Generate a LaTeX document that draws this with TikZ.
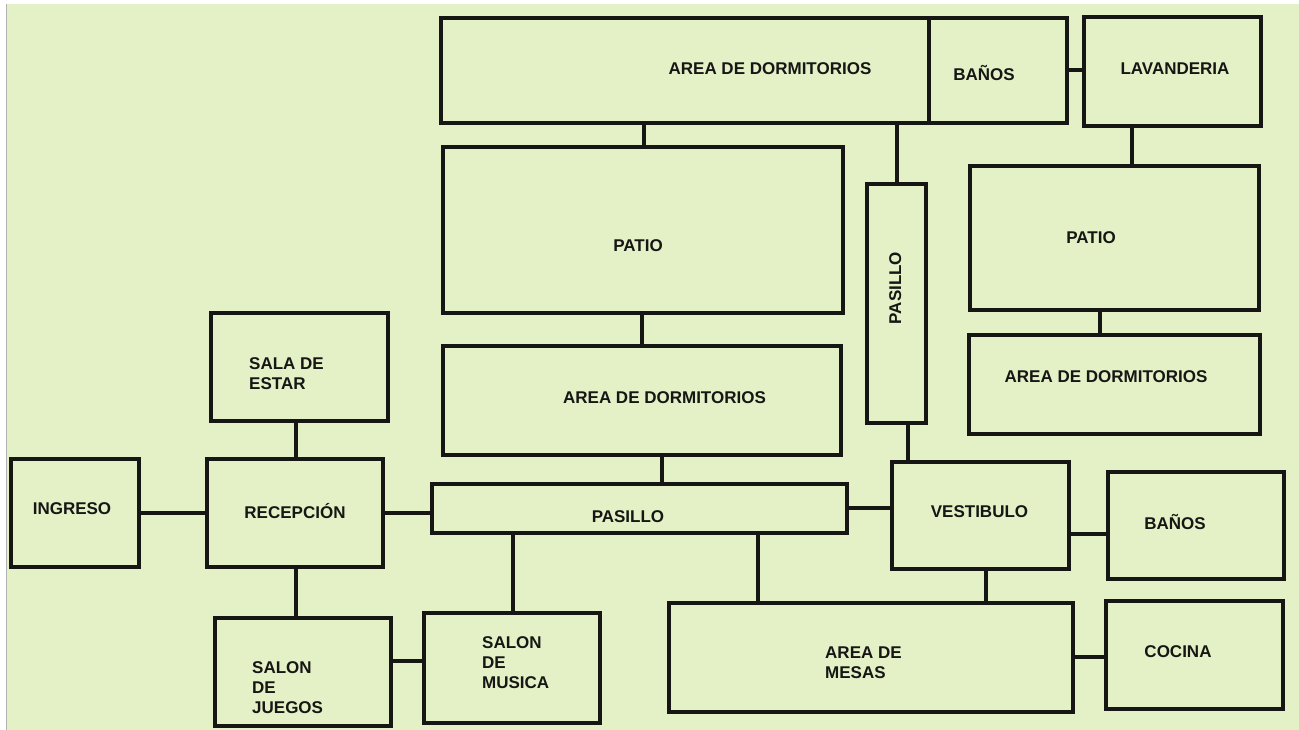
\documentclass[tikz,border=0pt]{standalone}
\usepackage{fontspec}
\setmainfont{Liberation Sans}
\usepackage{tikz}
\usetikzlibrary{positioning}
\usepackage{xcolor}
\definecolor{planbg}{RGB}{228, 241, 199}
\definecolor{planink}{RGB}{22, 22, 20}

\begin{document}
\begin{tikzpicture}[x=1pt, y=-1pt,
    room/.style 2 args={draw=planink, line width=3.3pt, minimum width=#1, minimum height=#2, inner sep=0pt},
    link/.style={draw=planink, line width=3.3pt},
    tag/.style={font=\fontsize{17}{20}\selectfont\bfseries, text=planink, inner sep=0pt, text height=12.2pt, text depth=0pt},
    note/.style={font=\fontsize{17}{20}\selectfont\bfseries, text=planink, inner sep=0pt, align=left, anchor=west}]
  \useasboundingbox (0,0) rectangle (1299,730);
  \fill[white] (0,0) rectangle (1299,730);
  \fill[planbg] (7,4) rectangle (1299,730);
  \draw[gray!60, line width=1pt] (6.5,4) -- (6.5,730);

  % rooms
  \node[room={488pt}{105pt}] (dormA)     at (685,70.5)   {};
  \node[room={138pt}{105pt}] (banosA)    at (998,70.5)   {};
  \node[room={177pt}{109pt}] (lavanderia) at (1172.5,71.5) {};
  \node[room={400pt}{166pt}] (patioA)    at (643,230)    {};
  \node[room={59pt}{239pt}]  (pasilloV)  at (896.5,303.5) {};
  \node[room={289pt}{144pt}] (patioB)    at (1114.5,238) {};
  \node[room={291pt}{99pt}]  (dormC)     at (1114.5,384.5) {};
  \node[room={398pt}{109pt}] (dormB)     at (642,400.5)  {};
  \node[room={415pt}{49pt}]  (pasilloH)  at (639.5,508.5) {};
  \node[room={177pt}{107pt}] (vestibulo) at (980.5,515.5) {};
  \node[room={176pt}{107pt}] (banosB)    at (1196,525.5) {};
  \node[room={404pt}{109pt}] (mesas)     at (871,657.5)  {};
  \node[room={177pt}{108pt}] (cocina)    at (1194.5,655) {};
  \node[room={128pt}{108pt}] (ingreso)   at (75,513)     {};
  \node[room={176pt}{108pt}] (recepcion) at (295,513)    {};
  \node[room={177pt}{108pt}] (sala)      at (299.5,367)  {};
  \node[room={176pt}{108pt}] (juegos)    at (303,672)    {};
  \node[room={176pt}{110pt}] (musica)    at (512,668)    {};

  % names
  \node[tag] (t-dormA)      at (770,68)     {AREA DE DORMITORIOS};
  \node[tag] (t-banosA)     at (984,74)     {BAÑOS};
  \node[tag] (t-lavanderia) at (1175,68)    {LAVANDERIA};
  \node[tag] (t-patioA)     at (638,245)    {PATIO};
  \node[tag, rotate=90] (t-pasilloV) at (895,288) {PASILLO};
  \node[tag] (t-patioB)     at (1091,237)   {PATIO};
  \node[tag] (t-dormC)      at (1106,376)   {AREA DE DORMITORIOS};
  \node[tag] (t-dormB)      at (664.5,397)  {AREA DE DORMITORIOS};
  \node[tag] (t-pasilloH)   at (628,516)    {PASILLO};
  \node[tag] (t-vestibulo)  at (979.5,511)  {VESTIBULO};
  \node[tag] (t-banosB)     at (1175,523)   {BAÑOS};
  \node[tag] (t-cocina)     at (1178,651)   {COCINA};
  \node[tag] (t-ingreso)    at (72,508)     {INGRESO};
  \node[tag] (t-recepcion)  at (295,512)    {RECEPCIÓN};
  \node[note] (t-sala)      at (249,373.5)  {SALA DE\\ESTAR};
  \node[note] (t-juegos)    at (252,687.5)  {SALON\\DE\\JUEGOS};
  \node[note] (t-musica)    at (482,662.5)  {SALON\\DE\\MUSICA};
  \node[note] (t-mesas)     at (825,662.5)  {AREA DE\\MESAS};

  % links
  \draw[link] (dormA.south -| 644,0)      -- (patioA.north -| 644,0);
  \draw[link] (dormA.south -| 897,0)      -- (pasilloV.north -| 897,0);
  \draw[link] (banosA.east |- 0,70)       -- (lavanderia.west |- 0,70);
  \draw[link] (lavanderia.south -| 1132,0) -- (patioB.north -| 1132,0);
  \draw[link] (patioB.south -| 1100,0)    -- (dormC.north -| 1100,0);
  \draw[link] (patioA.south -| 642,0)     -- (dormB.north -| 642,0);
  \draw[link] (dormB.south -| 662,0)      -- (pasilloH.north -| 662,0);
  \draw[link] (pasilloV.south -| 908,0)   -- (vestibulo.north -| 908,0);
  \draw[link] (pasilloH.east |- 0,508)    -- (vestibulo.west |- 0,508);
  \draw[link] (vestibulo.east |- 0,534)   -- (banosB.west |- 0,534);
  \draw[link] (pasilloH.south -| 758,0)   -- (mesas.north -| 758,0);
  \draw[link] (vestibulo.south -| 986,0)  -- (mesas.north -| 986,0);
  \draw[link] (mesas.east |- 0,657)       -- (cocina.west |- 0,657);
  \draw[link] (ingreso.east |- 0,513)     -- (recepcion.west |- 0,513);
  \draw[link] (recepcion.east |- 0,513)   -- (pasilloH.west |- 0,513);
  \draw[link] (sala.south -| 296,0)       -- (recepcion.north -| 296,0);
  \draw[link] (recepcion.south -| 296,0)  -- (juegos.north -| 296,0);
  \draw[link] (pasilloH.south -| 513,0)   -- (musica.north -| 513,0);
  \draw[link] (juegos.east |- 0,661)      -- (musica.west |- 0,661);
\end{tikzpicture}
\end{document}
